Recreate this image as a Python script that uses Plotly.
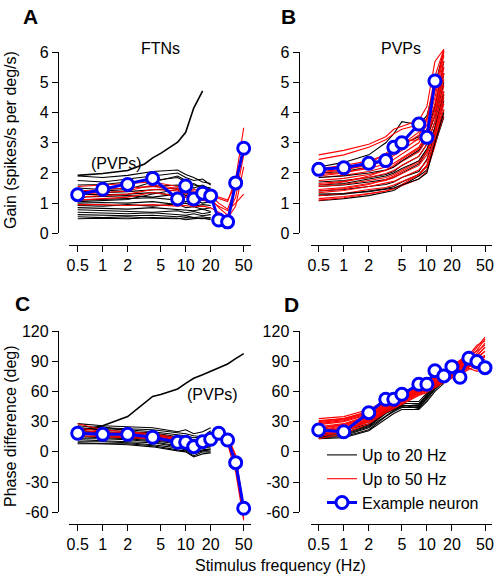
import math
import plotly.graph_objects as go

W, H = 494, 576

# ---------------- data ----------------
freq_ftn_20 = [0.5, 1, 2, 4, 8, 10, 12.5, 16, 20]
freq_ftn_50 = [0.5, 1, 2, 4, 8, 10, 12.5, 16, 20, 25, 32, 40, 50]
freq_pvp_20 = [0.5, 1, 2, 3.2, 4, 5, 8, 10, 12.5, 16]
freq_pvp_50 = [0.5, 1, 2, 3.2, 4, 5, 8, 10, 12.5, 16, 20, 25, 32, 40, 50]
freq_example_b = [0.5, 1, 2, 3.2, 4, 5, 8, 10, 12.5]

x_ticks = [0.5, 1, 2, 5, 10, 20, 50]
x_ticklabels = ["0.5", "1", "2", "5", "10", "20", "50"]
gain_ticks = [0, 1, 2, 3, 4, 5, 6]
phase_ticks = [-60, -30, 0, 30, 60, 90, 120]

# Panel A: FTN gain
gain_ftn_black = [
    [1.90, 1.85, 1.92, 2.05, 2.10, 1.95, 1.85, 1.70, 1.65],
    [1.75, 1.70, 1.80, 1.90, 2.00, 1.85, 1.75, 1.80, 1.60],
    [1.60, 1.62, 1.70, 1.75, 1.85, 1.70, 1.60, 1.55, 1.50],
    [1.50, 1.45, 1.50, 1.55, 1.60, 1.55, 1.65, 1.50, 1.40],
    [1.40, 1.35, 1.38, 1.45, 1.50, 1.40, 1.35, 1.30, 1.25],
    [1.30, 1.28, 1.30, 1.35, 1.25, 1.35, 1.20, 1.25, 1.30],
    [1.20, 1.22, 1.25, 1.20, 1.30, 1.20, 1.15, 1.10, 1.15],
    [1.10, 1.12, 1.15, 1.18, 1.10, 1.05, 1.10, 1.00, 1.05],
    [1.00, 1.02, 1.00, 1.05, 0.95, 1.00, 0.90, 0.95, 0.92],
    [0.92, 0.90, 0.95, 0.90, 0.98, 0.85, 0.88, 0.80, 0.85],
    [0.85, 0.82, 0.80, 0.85, 0.80, 0.78, 0.75, 0.80, 0.72],
    [0.78, 0.75, 0.72, 0.70, 0.75, 0.68, 0.72, 0.65, 0.70],
    [0.70, 0.68, 0.65, 0.68, 0.62, 0.60, 0.65, 0.58, 0.62],
    [0.62, 0.60, 0.58, 0.60, 0.55, 0.58, 0.52, 0.55, 0.50],
    [0.55, 0.52, 0.55, 0.50, 0.48, 0.52, 0.50, 0.48, 0.52],
    [0.48, 0.50, 0.48, 0.52, 0.50, 0.45, 0.48, 0.50, 0.45],
    [1.35, 1.40, 1.45, 1.70, 1.90, 1.75, 1.50, 1.60, 1.45],
    [1.05, 1.08, 1.12, 1.30, 1.45, 1.25, 1.30, 1.15, 1.20],
]
gain_ftn_red = [
    [1.55, 1.60, 1.65, 1.70, 1.55, 1.50, 1.45, 1.40, 1.35, 1.15, 1.05, 1.80, 3.50],
    [1.40, 1.45, 1.50, 1.55, 1.45, 1.40, 1.35, 1.30, 1.25, 1.00, 0.80, 1.50, 3.00],
    [1.20, 1.25, 1.30, 1.45, 1.40, 1.30, 1.25, 1.20, 1.15, 0.85, 0.60, 1.20, 2.60],
    [1.10, 1.15, 1.20, 1.35, 1.25, 1.20, 1.15, 1.10, 1.05, 0.90, 0.75, 1.00, 1.30],
    [0.95, 0.95, 0.92, 0.95, 0.90, 0.92, 0.88, 0.90, 0.85, 0.70, 0.50, 0.90, 2.20],
    [1.30, 1.35, 1.40, 1.60, 1.50, 1.45, 1.40, 1.35, 1.30, 1.20, 1.10, 1.60, 2.90],
]
gain_ftn_example = [1.28, 1.46, 1.62, 1.82, 1.14, 1.57, 1.14, 1.33, 1.24, 0.44, 0.38, 1.67, 2.82]
gain_pvp_mean = [1.92, 1.98, 2.08, 2.30, 2.50, 2.65, 3.02, 3.35, 4.15, 4.72]

# Panel B: PVP gain
gain_pvp_black = [
    [1.08, 1.15, 1.25, 1.35, 1.42, 1.58, 1.90, 2.10, 2.95, 3.85],
    [1.25, 1.30, 1.40, 1.48, 1.55, 1.70, 1.95, 2.25, 3.10, 4.10],
    [1.40, 1.45, 1.55, 1.62, 1.70, 1.85, 2.05, 2.45, 3.30, 4.40],
    [1.55, 1.60, 1.70, 1.78, 1.85, 2.00, 2.30, 2.70, 3.50, 4.70],
    [1.70, 1.75, 1.85, 1.95, 2.05, 2.25, 2.55, 2.95, 3.70, 5.00],
    [1.85, 1.90, 2.00, 2.10, 2.20, 2.40, 2.75, 3.20, 3.90, 5.30],
    [2.00, 2.05, 2.20, 2.45, 2.65, 2.95, 3.20, 3.40, 4.20, 5.70],
    [1.30, 1.32, 1.38, 1.45, 1.50, 1.60, 1.80, 2.00, 3.00, 4.00],
    [1.60, 1.65, 1.80, 1.90, 2.00, 2.15, 2.40, 2.80, 3.50, 4.60],
    [2.20, 2.35, 2.60, 3.00, 3.30, 3.70, 3.60, 3.90, 4.90, 6.05],
]
gain_pvp_red = [
    [1.10, 1.18, 1.30, 1.40, 1.48, 1.62, 1.95, 2.20, 3.00, 3.90],
    [1.15, 1.22, 1.32, 1.40, 1.48, 1.58, 1.80, 2.05, 2.90, 4.10],
    [1.25, 1.32, 1.45, 1.52, 1.60, 1.72, 1.95, 2.25, 3.05, 4.30],
    [1.35, 1.42, 1.55, 1.65, 1.72, 1.85, 2.10, 2.40, 3.20, 4.50],
    [1.45, 1.52, 1.65, 1.75, 1.85, 1.98, 2.25, 2.60, 3.35, 4.70],
    [1.55, 1.62, 1.75, 1.85, 1.95, 2.10, 2.40, 2.75, 3.50, 4.90],
    [1.65, 1.72, 1.85, 1.98, 2.08, 2.25, 2.55, 2.95, 3.70, 5.10],
    [1.75, 1.82, 1.95, 2.08, 2.20, 2.38, 2.70, 3.10, 3.90, 5.30],
    [1.85, 1.92, 2.05, 2.20, 2.32, 2.50, 2.85, 3.30, 4.10, 5.50],
    [1.95, 2.02, 2.15, 2.30, 2.45, 2.62, 3.00, 3.45, 4.30, 5.70],
    [2.05, 2.12, 2.25, 2.42, 2.58, 2.75, 3.15, 3.60, 4.50, 5.90],
    [2.15, 2.25, 2.40, 2.60, 2.75, 2.95, 3.35, 3.80, 4.80, 6.05],
    [2.60, 2.75, 2.95, 3.20, 3.45, 3.55, 3.75, 4.20, 5.70, 6.10],
    [2.45, 2.60, 2.85, 3.10, 3.30, 3.45, 3.60, 3.80, 5.20, 6.10],
    [1.60, 1.70, 1.90, 2.10, 2.25, 2.45, 2.80, 3.20, 4.10, 5.50],
    [1.90, 2.00, 2.20, 2.50, 2.70, 2.90, 3.25, 3.75, 4.70, 6.00],
    [1.40, 1.48, 1.62, 1.78, 1.90, 2.05, 2.35, 2.70, 3.40, 4.60],
    [2.00, 2.10, 2.30, 2.65, 2.85, 3.05, 3.10, 3.30, 3.90, 5.30],
]
gain_pvp_example = [2.12, 2.17, 2.32, 2.41, 2.85, 3.00, 3.62, 3.18, 5.05]

# Panel C: FTN phase
phase_ftn_black = [
    [28, 26, 25, 24, 20, 22, 18, 20, 24],
    [26, 24, 23, 22, 19, 18, 16, 15, 21],
    [24, 23, 22, 20, 17, 16, 14, 15, 18],
    [23, 22, 20, 19, 15, 14, 12, 13, 16],
    [21, 20, 19, 18, 14, 12, 11, 12, 14],
    [20, 19, 18, 16, 13, 11, 9, 10, 12],
    [19, 17, 17, 15, 12, 10, 8, 9, 11],
    [18, 16, 15, 13, 10, 9, 6, 8, 9],
    [16, 15, 14, 12, 9, 7, 5, 6, 8],
    [15, 14, 13, 11, 8, 6, 3, 5, 6],
    [13, 13, 12, 10, 6, 5, 2, 4, 5],
    [12, 11, 10, 9, 5, 3, 0, 2, 3],
    [10, 10, 9, 7, 4, 2, -2, 1, 2],
    [9, 8, 8, 6, 2, 1, -4, 0, 0],
    [8, 8, 7, 5, 1, 0, -5, -2, -1],
    [22, 25, 21, 17, 14, 13, 10, 11, 15],
]
phase_ftn_red = [
    [28, 22, 20, 18, 14, 13, 10, 13, 16, 20, 16, -5, -55],
    [22, 19, 18, 16, 12, 11, 8, 11, 14, 19, 14, -8, -60],
    [20, 18, 16, 15, 11, 10, 7, 10, 13, 18, 12, -12, -63],
    [18, 16, 15, 14, 10, 9, 6, 9, 12, 17, 10, -15, -66],
    [16, 15, 14, 13, 9, 8, 5, 8, 11, 16, 8, -20, -68],
    [24, 20, 19, 17, 13, 12, 9, 12, 15, 19, 15, -3, -58],
]
phase_ftn_example = [18.5, 17.4, 17.4, 14.5, 9.5, 9.5, 5.2, 10.1, 12.5, 18.5, 11.8, -10.7, -56]
phase_pvp_mean = [21, 26, 35, 48, 55, 57, 62.5, 68, 73, 76.5, 80, 83.5, 87.3, 92.5, 97.5]

# Panel D: PVP phase
phase_pvp_black = [
    [14, 15, 22, 35, 40, 44, 44, 52, 62, 70],
    [16, 17, 25, 38, 42, 46, 46, 55, 65, 72],
    [18, 19, 27, 40, 44, 47, 43, 53, 64, 69],
    [15, 16, 24, 36, 41, 45, 47, 56, 66, 73],
    [20, 21, 28, 41, 45, 48, 48, 57, 66, 71],
    [13, 14, 21, 33, 38, 42, 42, 50, 60, 68],
    [22, 23, 30, 43, 47, 50, 50, 58, 67, 74],
    [17, 18, 26, 39, 43, 46, 45, 54, 63, 70],
]
phase_pvp_red = [
    [13, 18, 28, 39, 43, 47, 56, 59, 64, 69, 73, 77, 82, 86, 90],
    [15, 20, 30, 41, 45, 49, 58, 61, 66, 71, 75, 79, 84, 90, 95],
    [17, 22, 31, 42, 46, 50, 59, 62, 67, 72, 76, 80, 86, 92, 100],
    [19, 24, 33, 44, 48, 52, 60, 63, 68, 73, 77, 82, 88, 95, 104],
    [21, 25, 34, 45, 49, 53, 61, 64, 69, 74, 78, 83, 90, 98, 108],
    [23, 27, 35, 46, 50, 54, 62, 65, 70, 75, 80, 85, 92, 101, 112],
    [25, 28, 36, 47, 51, 55, 62, 66, 71, 76, 81, 86, 94, 104, 114],
    [27, 30, 37, 48, 52, 56, 63, 67, 72, 77, 82, 87, 96, 106, 110],
    [29, 32, 39, 49, 53, 57, 64, 68, 73, 78, 83, 88, 98, 96, 104],
    [31, 33, 40, 50, 54, 58, 65, 69, 74, 79, 84, 89, 100, 94, 100],
    [33, 35, 42, 51, 55, 58, 66, 70, 75, 80, 85, 90, 99, 92, 96],
    [20, 23, 32, 43, 47, 51, 60, 63, 68, 73, 77, 81, 86, 82, 88],
    [24, 27, 35, 46, 50, 53, 61, 64, 70, 75, 79, 84, 90, 85, 80],
    [28, 31, 38, 48, 52, 56, 63, 66, 72, 77, 81, 86, 93, 88, 78],
    [16, 21, 30, 40, 44, 48, 57, 60, 65, 70, 74, 78, 83, 80, 84],
    [22, 26, 34, 45, 49, 52, 60, 64, 69, 74, 79, 83, 88, 91, 94],
    [30, 33, 40, 50, 53, 57, 64, 68, 74, 80, 86, 91, 96, 100, 106],
    [18, 22, 31, 42, 46, 50, 58, 62, 67, 72, 76, 80, 85, 87, 92],
]
phase_pvp_example = [21.7, 20, 38.9, 52.2, 52.2, 57.2, 67.1, 67.1, 80.6, 75.4, 84.6, 74.1, 93, 89.6, 83.6]

# ---------------- styling / layout helpers ----------------
FONT = "Liberation Sans, Arial, Helvetica, sans-serif"
BLUE = "#0000ff"
RED = "#ff0000"
BLACK = "#000000"


def px(p):
    return p / W


def py(p):
    return 1 - p / H


def log_range(d0, d1, p05, p50):
    ppd = (p50 - p05) / 2.0
    return [math.log10(0.5) - (p05 - d0) / ppd, math.log10(50) + (d1 - p50) / ppd]


def lin_range(top_px, bot_px, v_top, v_top_px, v_bot, v_bot_px):
    s = (v_bot_px - v_top_px) / (v_top - v_bot)
    return [v_bot - (bot_px - v_bot_px) / s, v_top + (v_top_px - top_px) / s]


fig = go.Figure()


def add_lines(xax, yax, freqs, rows, color, width, legend_name=None):
    for i, r in enumerate(rows):
        fig.add_trace(go.Scatter(
            x=freqs[:len(r)], y=r, mode="lines", xaxis=xax, yaxis=yax,
            line=dict(color=color, width=width),
            name=legend_name if legend_name else "",
            showlegend=(legend_name is not None and i == 0),
            hoverinfo="skip"))


def add_example(xax, yax, freqs, vals, show=False):
    fig.add_trace(go.Scatter(
        x=freqs, y=vals, mode="lines+markers", xaxis=xax, yaxis=yax,
        line=dict(color=BLUE, width=3),
        marker=dict(symbol="circle", size=12, color="white",
                    line=dict(color=BLUE, width=3)),
        cliponaxis=False, name="Example neuron", showlegend=show))


# Panel A
add_lines("x", "y", freq_ftn_20, gain_ftn_black, BLACK, 1.1)
add_lines("x", "y", freq_pvp_20, [gain_pvp_mean], BLACK, 1.6)
add_lines("x", "y", freq_ftn_50, gain_ftn_red, RED, 1.1)
add_example("x", "y", freq_ftn_50, gain_ftn_example)
# Panel B
add_lines("x2", "y2", freq_pvp_20, gain_pvp_black[:5], BLACK, 1.1)
add_lines("x2", "y2", freq_pvp_20, gain_pvp_red[:9], RED, 1.1)
add_lines("x2", "y2", freq_pvp_20, gain_pvp_black[5:], BLACK, 1.1)
add_lines("x2", "y2", freq_pvp_20, gain_pvp_red[9:], RED, 1.1)
add_example("x2", "y2", freq_example_b, gain_pvp_example)
# Panel C
add_lines("x3", "y3", freq_ftn_20, phase_ftn_black, BLACK, 1.1)
add_lines("x3", "y3", freq_pvp_50, [phase_pvp_mean], BLACK, 1.6)
add_lines("x3", "y3", freq_ftn_50, phase_ftn_red, RED, 1.1)
add_example("x3", "y3", freq_ftn_50, phase_ftn_example)
# Panel D
add_lines("x4", "y4", freq_pvp_20, phase_pvp_black, BLACK, 1.1, "Up to 20 Hz")
add_lines("x4", "y4", freq_pvp_50, phase_pvp_red, RED, 1.1, "Up to 50 Hz")
add_example("x4", "y4", freq_pvp_50, phase_pvp_example, show=True)

# dummy traces so the display y-axes are drawn
for xa, ya in [("x", "y5"), ("x2", "y6"), ("x3", "y7"), ("x4", "y8")]:
    fig.add_trace(go.Scatter(x=[None], y=[None], xaxis=xa, yaxis=ya,
                             mode="lines", showlegend=False, hoverinfo="skip"))

tickfont = dict(family=FONT, size=16, color="black")
axis_common = dict(showgrid=False, zeroline=False, showline=True, linecolor="black",
                   linewidth=1.4, ticks="outside", ticklen=6, tickwidth=1.4,
                   tickcolor="black", tickfont=tickfont, automargin=False)

layout = dict(
    template="none",
    width=W, height=H, margin=dict(l=0, r=0, t=0, b=0, pad=0),
    paper_bgcolor="white", plot_bgcolor="rgba(0,0,0,0)",
    font=dict(family=FONT, size=16, color="black"),
    showlegend=True,
)

panels = [
    ("xaxis", "yaxis", "yaxis5", 69, 251, 77.7, 243.7, 245, 58, "gain", "x"),
    ("xaxis2", "yaxis2", "yaxis6", 310.7, 492, 318.7, 485, 245, 298.7, "gain", "x2"),
    ("xaxis3", "yaxis3", "yaxis7", 69, 251, 77.7, 243.7, 524, 58, "phase", "x3"),
    ("xaxis4", "yaxis4", "yaxis8", 310.7, 492, 318.7, 485, 524, 298.7, "phase", "x4"),
]

for xn, yn, ydn, d0, d1, p05, p50, xline, yline, kind, xid in panels:
    layout[xn] = dict(axis_common, type="log", domain=[px(d0), px(d1)],
                      range=log_range(d0, d1, p05, p50), anchor="free",
                      position=py(xline), tickvals=x_ticks, ticktext=x_ticklabels)
    if kind == "gain":
        top, bot = 40, 240
        rng = lin_range(top, bot, 6, 52.3, 0, 233.3)
        ddom = [py(233.3), py(52.3)]
        drng = [0, 6]
        tv = gain_ticks
    else:
        top, bot = 318, 530
        rng = lin_range(top, bot, 120, 331, -60, 512.3)
        ddom = [py(512.3), py(331)]
        drng = [-60, 120]
        tv = phase_ticks
    layout[yn] = dict(domain=[py(bot), py(top)], range=rng, visible=False,
                      anchor=xid, showgrid=False, zeroline=False, automargin=False)
    layout[ydn] = dict(axis_common, domain=ddom, range=drng, anchor="free",
                       position=px(yline), tickvals=tv,
                       ticktext=[str(v) for v in tv])

layout["legend"] = dict(x=px(322), y=py(438), xanchor="left", yanchor="top",
                        bgcolor="rgba(0,0,0,0)", font=dict(family=FONT, size=16),
                        itemwidth=30, tracegroupgap=0, borderwidth=0)

annotations = []


def ann(text, x, y, size=16, bold=False, angle=0):
    annotations.append(dict(text=("<b>%s</b>" % text) if bold else text,
                            x=px(x), y=py(y), xref="paper", yref="paper",
                            showarrow=False, textangle=angle,
                            font=dict(family=FONT, size=size, color="black"),
                            xanchor="center", yanchor="middle"))


ann("A", 30, 16, size=21, bold=True)
ann("B", 288, 16, size=21, bold=True)
ann("C", 22, 303, size=21, bold=True)
ann("D", 291, 304, size=21, bold=True)
ann("FTNs", 160, 48)
ann("PVPs", 401, 48)
ann("(PVPs)", 116, 163)
ann("(PVPs)", 212, 394)
ann("Gain (spikes/s per deg/s)", 10, 140, angle=-90)
ann("Phase difference (deg)", 10, 426, angle=-90)
ann("Stimulus frequency (Hz)", 280, 565)
layout["annotations"] = annotations

fig.update_layout(**layout)
fig.write_html("out.html", config={"displayModeBar": False},
               post_script="document.body.style.margin='0px';document.body.style.padding='0px';")
